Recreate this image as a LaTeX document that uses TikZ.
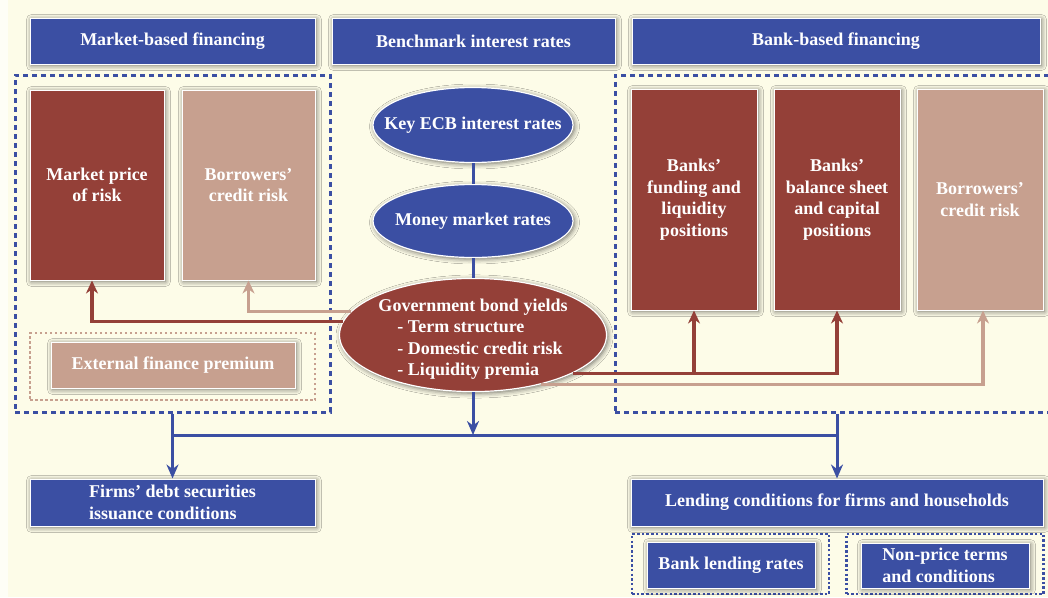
\documentclass[tikz,border=0pt]{standalone}
\usepackage{fontspec}
\setmainfont{Liberation Serif}
\usetikzlibrary{arrows.meta,positioning,shapes.geometric,shadows,shadows.blur}
\definecolor{ecbblue}{RGB}{59,79,163}
\definecolor{ecbred}{RGB}{148,64,56}
\definecolor{ecbtan}{RGB}{199,160,143}
\definecolor{ecbcream}{RGB}{253,252,232}

\begin{document}
\begin{tikzpicture}[
  x=1pt, y=-1pt,
  font=\bfseries\fontsize{18}{21.5}\selectfont,
  boxshadow/.style={blur shadow={shadow xshift=1.5pt, shadow yshift=-1.5pt, shadow blur radius=5pt, shadow opacity=60}},
  hdr/.style={draw=white, line width=1pt, fill=ecbblue, text=white, minimum height=46pt, inner sep=2pt, boxshadow},
  redbox/.style={draw=white, line width=1pt, fill=ecbred, text=white, align=center, inner sep=2pt, boxshadow},
  tanbox/.style={draw=white, line width=1pt, fill=ecbtan, text=white, align=center, inner sep=2pt, boxshadow},
  oval/.style={ellipse, draw=white, line width=1.2pt, fill=ecbblue, text=white, inner xsep=-18pt, inner ysep=0pt, boxshadow},
  grp/.style={draw=ecbblue, line width=3pt, dash pattern=on 5pt off 4pt, minimum height=337pt},
  sub/.style={draw=ecbblue, line width=2.8pt, dash pattern=on 2.5pt off 2.2pt},
  flow/.style={draw=ecbblue, line width=3pt, -{Stealth[length=14pt,width=12pt]}},
  bus/.style={draw=ecbblue, line width=3pt},
  rline/.style={draw=ecbred, line width=3.2pt, -{Stealth[length=13pt,width=12pt]}},
  tline/.style={draw=ecbtan, line width=3.2pt, -{Stealth[length=13pt,width=12pt]}}
]
\fill[ecbcream] (0,0) rectangle (1048,597);
\fill[white!60!ecbcream] (0,0) rectangle (8,597);
\useasboundingbox (0,0) rectangle (1048,597);

% headers
\node[hdr, minimum width=285pt] (hmkt) at (172.5,41) {Market-based financing};
\node[hdr, minimum width=283pt] (hbench) at (473.5,41) {Benchmark interest rates};
\node[hdr, minimum width=408pt] (hbank) at (836,41) {Bank-based financing};

% dashed groups
\node[grp, minimum width=315pt] (mktgrp) at (172.5,243.5) {};
\node[grp, minimum width=440pt] (bankgrp) at (835,243.5) {};

% market side
\node[redbox, minimum width=134pt, minimum height=190pt] (mpr) at (97,185) {Market price\\of risk};
\node[tanbox, minimum width=133pt, minimum height=190pt] (bcra) at (248.5,185) {Borrowers'\\credit risk};
\node[draw=ecbtan, line width=2.8pt, dash pattern=on 2.5pt off 2.5pt, minimum width=285pt, minimum height=67pt] (efpgrp) at (172.5,366.5) {};
\node[tanbox, minimum width=244pt, minimum height=46pt] (efp) at (173,365) {External finance premium};

% bank side
\node[redbox, minimum width=126pt, minimum height=221pt] (bfl) at (694,199.5) {Banks'\\funding and\\liquidity\\positions};
\node[redbox, minimum width=126pt, minimum height=221pt] (bbs) at (837,199.5) {Banks'\\balance sheet\\and capital\\positions};
\node[tanbox, minimum width=126pt, minimum height=221pt] (bcrb) at (980,199.5) {Borrowers'\\credit risk};

% benchmark rates
\node[oval, minimum width=200pt, minimum height=75pt] (ecb) at (473,125) {Key ECB interest rates};
\node[oval, minimum width=200pt, minimum height=73pt] (mmr) at (473,221) {Money market rates};
\node[oval, fill=ecbred, inner sep=-3pt, minimum width=267pt, minimum height=111pt] (gby) at (473,335)
  {\raisebox{-4pt}[\height][\depth]{\begin{tabular}{@{}l@{}}Government bond yields\\\hspace*{19pt}- Term structure\\\hspace*{19pt}- Domestic credit risk\\\hspace*{19pt}- Liquidity premia\end{tabular}}};

% outcomes
\node[hdr, minimum width=285pt, minimum height=47pt, align=left] (fdi) at (172.5,502.5) {Firms' debt securities\\issuance conditions};
\node[hdr, minimum width=412pt, minimum height=47pt] (lcf) at (837,502.5) {Lending conditions for firms and households};
\node[sub, minimum width=197pt, minimum height=60pt] (blrgrp) at (730.5,564) {};
\node[hdr, minimum width=168pt, minimum height=46pt] (blr) at (731,565) {Bank lending rates};
\node[sub, minimum width=197pt, minimum height=60pt] (nptgrp) at (945,564) {};
\node[hdr, minimum width=168pt, minimum height=45pt, align=left] (npt) at (945,565.5) {Non-price terms\\and conditions};

% links
\draw[bus] (ecb) -- (mmr);
\draw[bus] (mmr) -- (gby);
\coordinate (split) at (473,435);
\draw[flow] (gby.south) -- (split);
\draw[bus] (mktgrp.south |- split) -- (lcf.north |- split);
\draw[flow] (mktgrp.south) -- (fdi.north);
\draw[flow] (lcf.north |- bankgrp.south) -- (lcf.north);

\draw[tline] (gby.169) -| (bcra.south);
\draw[rline] (gby.174) -| ([xshift=-5pt]mpr.south);
\draw[tline] (gby.-36) -| ([xshift=3pt]bcrb.south);
\draw[rline] (gby.-21) -| (bbs.south);
\draw[rline] (bfl.south |- gby.-21) -- (bfl.south);
\end{tikzpicture}
\end{document}
